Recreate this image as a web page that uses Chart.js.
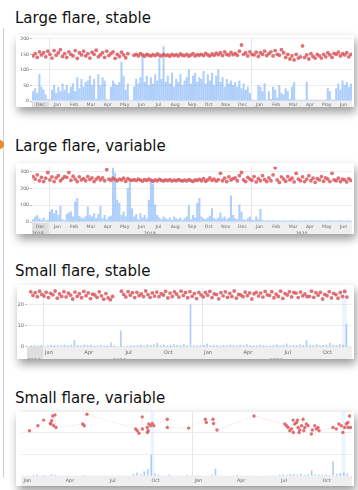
<!DOCTYPE html>
<html>
<head>
<meta charset="utf-8">
<script src="https://cdn.jsdelivr.net/npm/chart.js@4.4.1/dist/chart.umd.min.js"></script>
<style>
  html, body { margin: 0; padding: 0; background: #fff; }
  body { width: 358px; height: 490px; position: relative; overflow: hidden; font-family: "DejaVu Sans", Verdana, sans-serif; }
  .title { position: absolute; left: 15px; font-size: 15px; line-height: 18px; color: #111; white-space: nowrap; }
  .card { position: absolute; background: #fff; box-shadow: 2px 5px 9px rgba(0,0,0,0.4); }
  .card canvas { display: block; }
  .edge { position: absolute; left: 3px; top: 28px; width: 1px; height: 450px; background: #cfcfcf; }
  .knob { position: absolute; left: -5px; top: 140px; width: 9px; height: 9px; border-radius: 50%; background: #ee8a2a; }
</style>
</head>
<body>
<div class="edge"></div>
<div class="knob"></div>

<div class="title" style="top:9px">Large flare, stable</div>
<div class="card" style="left:16px;top:35px;width:338px;height:72px"><canvas id="c1" width="338" height="72"></canvas></div>

<div class="title" style="top:137px">Large flare, variable</div>
<div class="card" style="left:16px;top:163px;width:338px;height:71px"><canvas id="c2" width="338" height="71"></canvas></div>

<div class="title" style="top:262px">Small flare, stable</div>
<div class="card" style="left:17px;top:285px;width:337px;height:74px"><canvas id="c3" width="337" height="74"></canvas></div>

<div class="title" style="top:389px">Small flare, variable</div>
<div class="card" style="left:16px;top:411px;width:338px;height:75px"><canvas id="c4" width="338" height="75"></canvas></div>

<script>
// ---- data (months Dec 2018 .. Jun 2020, 8 samples per month) ----
var bigMonthLabels = ['Dec','Jan','Feb','Mar','Apr','May','Jun','Jul','Aug','Sep','Oct','Nov','Dec','Jan','Feb','Mar','Apr','May','Jun'];
var bigYears = ['2018', '2019', '2020'];

var p1Bars = [
  30, 40, 25, 85, 45, 35, 20, 5,
  3, 35, 50, 25, 45, 30, 55, 35,
  50, 25, 45, 55, 30, 75, 40, 70,
  45, 60, 65, 80, 50, 70, 5, 85,
  50, 75, 65, 5, 3, 45, 65, 55,
  50, 60, 125, 80, 35, 55, 2, 2,
  45, 70, 55, 75, 147, 60, 80, 50,
  75, 55, 85, 65, 138, 70, 175, 60,
  80, 55, 90, 45, 70, 60, 85, 50,
  65, 75, 100, 55, 80, 90, 60, 75,
  70, 95, 55, 85, 65, 90, 50, 80,
  100, 60, 75, 45, 70, 55, 65, 50,
  60, 45, 65, 40, 55, 35, 45, 25,
  3, 2, 3, 50, 45, 30, 55, 3,
  30, 5, 45, 35, 10, 50, 25, 20,
  40, 30, 5, 45, 60, 3, 3, 3,
  3, 3, 60, 3, 3, 3, 3, 3,
  3, 3, 3, 3, 40, 30, 3, 3,
  40, 55, 35, 65, 50, 60, 45, 55
];
var p1Dots = [
  145, 152, 140, 158, 148, 155, 142, 160,
  150, 138, 162, 147, 155, 165, 143, 152,
  140, 158, 150, 145, 162, 137, 155, 148,
  160, 145, 152, 138, 157, 150, 163, 142,
  148, 155, 140, 160, 146, 152, 158, 137,
  150, 143, 157, 148, 139, 152, null, null,
  147, 150, 145, 152, 148, 144, 150, 147,
  145, 149, 146, 151, 147, 145, 150, 146,
  148, 144, 150, 146, 149, 145, 151, 147,
  146, 150, 144, 148, 152, 145, 149, 147,
  150, 146, 153, 148, 145, 151, 147, 154,
  149, 155, 146, 158, 150, 147, 156, 149,
  153, 147, 160, 180, 150, 155, 145, 158,
  150, 148, 157, 143, 155, 150, 160, 146,
  152, 158, 145, 162, 150, 147, 165, 155,
  140, 150, 135, 145, 132, 150, 138, 142,
  177, 140, 148, 135, 152, 143, 138, 150,
  145, 138, 150, 142, 155, 148, 140, 153,
  150, 157, 145, 152, 148, 155, 142, 150
];

var p2Bars = [
  15, 30, 38, 20, 12, 25, 8, 10,
  60, 75, 50, 70, 40, 94, 15, 8,
  45, 55, 60, 30, 120, 140, 35, 25,
  20, 35, 90, 40, 30, 50, 20, 45,
  95, 20, 40, 15, 30, 35, 320, 290,
  130, 113, 40, 60, 30, 200, 235, 80,
  30, 45, 15, 50, 25, 40, 20, 130,
  235, 225, 100, 40, 25, 15, 30, 20,
  15, 25, 10, 30, 20, 15, 25, 10,
  20, 30, 98, 15, 40, 25, 113, 140,
  30, 20, 15, 25, 35, 80, 20, 15,
  25, 55, 20, 30, 15, 25, 155, 40,
  20, 15, 100, 60, 15, 10, 20, 30,
  10, 8, 30, 15, 75, 10, 5, 8,
  7, 6, 8, 7, 5, 7, 6, 7,
  7, 6, 7, 8, 7, 6, 7, 7,
  6, 7, 7, 6, 8, 7, 6, 7,
  7, 7, 6, 7, 7, 8, 6, 7,
  6, 7, 8, 7, 6, 7, 7, 6
];
var p2Dots = [
  270, 255, 280, 245, 265, 240, 260, 294,
  250, 268, 240, 262, 275, 245, 258, 270,
  265, 294, 248, 272, 255, 240, 268, 250,
  258, 245, 270, 252, 262, 240, 255, 265,
  250, 262, 245, 311, 255, 248, 260, 252,
  245, 255, 250, 260, 242, 258, 250, 247,
  252, 246, 255, 249, 243, 251, 247, 254,
  248, 242, 250, 245, 253, 247, 244, 250,
  246, 251, 243, 249, 245, 252, 247, 244,
  249, 244, 252, 246, 241, 250, 247, 253,
  245, 258, 242, 250, 262, 247, 255, 243,
  252, 289, 245, 260, 240, 268, 250, 257,
  262, 245, 275, 294, 250, 240, 265, 255,
  248, 270, 238, 258, 245, 275, 252, 240,
  262, 245, 280, 322, 250, 235, 268, 255,
  242, 270, 250, 260, 238, 289, 255, 245,
  268, 240, 255, 275, 245, 260, 235, 258,
  250, 270, 242, 262, 255, 240, 289, 250,
  245, 260, 240, 255, 250, 238, 258, 247
];

// ---- small flares (months from Jan 2019) ----
var quarterLabels = ['Jan','Apr','Jul','Oct','Jan','Apr','Jul','Oct'];
var smallYears = ['2018', '2019', '2020'];

// 6 dots per month, Dec 2018 .. Nov 2020
var p3Dots = [
  26.2, 24.5, 25.8, 23.9, 26.5, 25.0,
  24.2, 26.0, 23.5, 25.5, 24.8, 26.6,
  23.2, 25.2, 24.0, 26.3, 23.8, 25.6,
  24.6, 22.8, 26.1, 24.1, 25.3, 23.4,
  26.4, 24.4, 25.7, 23.0, 25.1, 24.7,
  23.6, 26.2, 24.3, 22.7, 25.4, 23.3,
  22.5, 24.0, null, null, null, 26.5,
  25.0, 23.8, 26.3, 24.6, 25.8, 23.5,
  26.0, 24.4, 25.2, 23.9, 26.6, 24.9,
  23.6, 25.7, 24.2, 26.1, 23.9, 25.3,
  24.7, 26.4, 23.3, 25.6, 24.0, 26.2,
  25.1, 23.7, 26.5, 24.5, 25.9, 23.4,
  26.3, 24.1, 25.4, 23.0, 26.0, 24.8,
  23.8, 25.9, 24.6, 26.4, 23.5, 25.2,
  24.9, 22.9, 25.8, 24.3, 26.2, 23.6,
  25.5, 24.0, 26.6, 23.2, 25.0, 24.7,
  23.9, 26.1, 24.4, 25.7, 22.8, 25.3,
  26.0, 24.2, 25.6, 23.7, 26.4, 24.8,
  24.5, 26.3, 23.4, 25.1, 24.0, 26.5,
  23.1, 25.4, 24.7, 26.2, 23.8, 25.9,
  25.6, 23.5, 26.1, 24.3, 25.2, 23.9,
  24.1, 26.5, 23.6, 25.8, 24.6, 26.0,
  22.8, 25.0, 24.4, 26.3, 23.3, 25.5,
  24.9, 23.2, 25.9, 24.0, 26.4, 23.7
];
// 4 bars per month, Dec 2018 .. Nov 2020
var p3Bars = [
  0.6, 0.8, 0.5, 0.7,
  0, 0.6, 0.9, 0.7,
  0.8, 0.6, 1.0, 0.7,
  0.9, 3.2, 0.8, 0.6,
  1.0, 0.7, 0.9, 0.5,
  0.6, 0.8, 0.4, 0.7,
  2.0, 0.6, 0, 7.7,
  0, 0.4, 0.6, 0.5,
  0.7, 0.9, 0.6, 1.0,
  0.8, 1.1, 1.8, 0.7,
  1.0, 0.6, 0.9, 1.2,
  0.7, 0.8, 1.3, 0.6,
  20, 0.5, 0.7, 0.6,
  0.8, 1.5, 0.6, 0.9,
  0.7, 0.5, 0.8, 0.6,
  1.0, 0.7, 0.6, 0.9,
  0.8, 1.1, 0.7, 0.6,
  0.5, 0.9, 0.7, 0.4,
  0.6, 0.8, 1.0, 0.7,
  0.9, 1.5, 0.7, 0.8,
  0.6, 1.0, 0.8, 3.0,
  0.9, 0.7, 1.2, 0.8,
  0.8, 1.0, 1.8, 0.9,
  0.7, 1.2, 0.9, 11
];
var p3BandMonths = [22.73];

var p4DotMonths = [
  0.58, 1.17, 1.58, 2.04, 2.09, 2.13, 2.21, 2.28, 2.37, 2.44,
  4.31, 4.42, 4.61, 8.03, 8.14, 8.26, 8.49, 8.5, 8.84, 8.85,
  8.91, 8.95, 9.07, 9.19, 9.3, 10.24, 10.25, 11.74, 12.91, 12.98,
  13.45, 13.49, 13.73, 16.33, 18.49, 18.61, 18.72, 18.84, 18.96, 19.07,
  19.08, 19.19, 19.31, 19.38, 19.42, 19.49, 19.54, 19.66, 19.77, 19.82,
  19.89, 20.0, 20.12, 20.35, 20.42, 20.59, 20.7, 20.82, 20.89, 21.87,
  22.1, 22.28, 22.45, 22.56, 22.68, 22.8, 22.91, 22.92, 23.03, 23.1
];
var p4DotValues = [
  20.9, 23.2, 25.8, 24.2, 24.0, 25.5, 27.7, 23.2, 28.2, 22.4,
  24.0, 23.2, 28.5, 21.7, 20.9, 19.7, 27.3, 21.7, 22.4, 20.1,
  20.9, 24.0, 23.2, 24.2, 23.2, 26.2, 22.4, 22.1, 26.2, 24.7,
  26.2, 24.2, 21.2, 27.7, 24.0, 23.2, 22.4, 20.9, 21.7, 25.8,
  20.1, 24.0, 24.7, 25.8, 22.4, 20.1, 21.2, 23.2, 26.2, 20.9,
  22.4, 24.0, 23.2, 19.4, 21.2, 23.2, 21.7, 22.4, 20.9, 22.4,
  21.7, 24.0, 23.2, 20.1, 22.4, 24.0, 24.7, 22.4, 27.7, 22.4
];
// 4 bars per month, Jan 2019 .. Nov 2020
var p4Bars = [
  0, 0, 0, 0.4,
  0.5, 0, 0.3, 0,
  0.6, 0.4, 0, 0,
  0, 0, 0, 0,
  0, 0.3, 0, 0,
  0, 0, 0, 0,
  0, 0, 0, 0,
  0, 0, 0, 0.8,
  1.5, 0.6, 2.0, 3.0,
  9.5, 1.0, 0.5, 0,
  0, 0.5, 0, 0,
  0, 0, 0.4, 0,
  0, 0.3, 0, 0,
  0, 0.5, 3.2, 0,
  0, 0, 0, 0,
  0.3, 0, 0, 0,
  0, 0, 0, 0,
  0, 0, 0, 0,
  0.5, 0.7, 0.4, 0.8,
  0.6, 0.5, 0.9, 0.4,
  0.7, 2.5, 0.6, 0.5,
  0.4, 0.6, 0.3, 6.5,
  0.8, 1.2, 1.5, 1.0
];
var p4BandMonths = [9.2, 22.6];

var FONT = '"DejaVu Sans", Verdana, sans-serif';
var RED = 'rgba(218,88,94,0.85)';
var BLUE = 'rgba(95,160,248,0.5)';
var BAND = 'rgba(160,200,250,0.2)';

function evenPoints(values, start, perMonth) {
  return values.map(function (v, i) { return { x: start + (i + 0.5) / perMonth, y: v }; });
}

function buildChart(id, cfg) {
  var datasets = [{
    type: 'scatter',
    data: cfg.dots,
    pointRadius: cfg.dotRadius || 1.9,
    pointBackgroundColor: RED,
    pointBorderWidth: 0,
    showLine: !!cfg.dotLine,
    borderColor: 'rgba(220,110,115,0.35)',
    borderWidth: 1,
    borderDash: [1, 2],
    order: 0
  }, {
    type: 'bar',
    data: cfg.bars,
    backgroundColor: BLUE,
    barThickness: cfg.barWidth,
    grouped: false,
    order: 1
  }];
  if (cfg.bands) {
    datasets.push({
      type: 'bar',
      data: cfg.bands.map(function (m) { return { x: m, y: cfg.yMax * 2 }; }),
      backgroundColor: BAND,
      barThickness: cfg.bandWidth || 4,
      grouped: false,
      order: 2
    });
  }

  var bandPlugin = {
    id: 'axisBand',
    beforeDraw: function (chart) {
      var a = chart.chartArea, ctx = chart.ctx, xs = chart.scales.x;
      ctx.save();
      ctx.fillStyle = '#efefef';
      ctx.fillRect(a.left, a.bottom, a.right - a.left, chart.height - a.bottom);
      if (cfg.darkTo != null) {
        ctx.fillStyle = '#dedede';
        ctx.fillRect(a.left, a.bottom, xs.getPixelForValue(cfg.darkTo) - a.left, chart.height - a.bottom);
      }
      ctx.strokeStyle = '#e6e6e6';
      ctx.lineWidth = 1;
      cfg.yearLines.forEach(function (v) {
        var x = Math.round(xs.getPixelForValue(v)) + 0.5;
        ctx.beginPath();
        ctx.moveTo(x, a.top);
        ctx.lineTo(x, a.bottom);
        ctx.stroke();
      });
      if (cfg.years) {
        ctx.fillStyle = '#666';
        ctx.font = cfg.fontSize + 'px ' + FONT;
        ctx.textAlign = 'center';
        ctx.textBaseline = 'top';
        cfg.years.forEach(function (y, i) {
          ctx.fillText(y, xs.getPixelForValue(cfg.yearAt[i]), a.bottom + cfg.yearDy);
        });
      }
      ctx.restore();
    }
  };

  new Chart(document.getElementById(id), {
    type: 'bar',
    data: { datasets: datasets },
    options: {
      responsive: false,
      animation: false,
      devicePixelRatio: 1,
      layout: { autoPadding: false, padding: { right: 2 } },
      plugins: { legend: { display: false }, tooltip: { enabled: false } },
      scales: {
        x: {
          type: 'linear',
          min: cfg.xMin,
          max: cfg.xMax,
          offset: false,
          grid: { display: false, drawTicks: false },
          border: { display: false },
          afterBuildTicks: function (s) {
            s.ticks = cfg.tickAt.map(function (v) { return { value: v }; });
          },
          afterFit: function (s) { s.height = cfg.xHeight; },
          ticks: {
            autoSkip: false,
            maxRotation: 0,
            padding: cfg.xPad,
            labelOffset: cfg.labelOffset || 0,
            font: { size: cfg.fontSize, family: FONT },
            color: '#666',
            callback: function (v, i) { return cfg.tickLabels[i]; }
          }
        },
        y: {
          min: 0,
          max: cfg.yMax,
          grid: { color: '#eeeeee', tickColor: '#bbbbbb', tickLength: cfg.yLabels ? 2 : 0, drawTicks: !!cfg.yLabels },
          border: { display: false },
          afterFit: function (s) { s.width = cfg.yWidth; },
          ticks: {
            stepSize: cfg.yStep,
            includeBounds: false,
            display: !!cfg.yLabels,
            padding: 1,
            font: { size: cfg.fontSize, family: FONT },
            color: '#666'
          }
        }
      }
    },
    plugins: [bandPlugin]
  });
}

function onReady(fn) {
  if (document.readyState === 'loading') {
    document.addEventListener('DOMContentLoaded', fn, { once: true });
  } else {
    fn();
  }
}

onReady(function () {
  if (!window.Chart) return;
  var monthCenters = bigMonthLabels.map(function (l, i) { return i + 0.5; });
  var quarterStarts = quarterLabels.map(function (l, i) { return i * 3; });

  buildChart('c1', {
    dots: evenPoints(p1Dots, 0, 8), bars: evenPoints(p1Bars, 0, 8), barWidth: 1.4,
    xMin: 0, xMax: 19, tickAt: monthCenters, tickLabels: bigMonthLabels,
    yMax: 200, yStep: 50, yLabels: true, yWidth: 16, xHeight: 6, xPad: 1,
    fontSize: 4.6, darkTo: 1, yearLines: [1, 13]
  });

  buildChart('c2', {
    dots: evenPoints(p2Dots, 0, 8), bars: evenPoints(p2Bars, 0, 8), barWidth: 1.4,
    xMin: 0, xMax: 19, tickAt: monthCenters, tickLabels: bigMonthLabels,
    yMax: 328, yStep: 100, yLabels: true, yWidth: 16, xHeight: 12, xPad: 2,
    fontSize: 4.6, darkTo: 1, yearLines: [1, 13],
    years: bigYears, yearAt: [0.35, 7.0, 16.0], yearDy: 9
  });

  buildChart('c3', {
    dots: evenPoints(p3Dots, -1, 6), bars: evenPoints(p3Bars, -1, 4), barWidth: 1,
    bands: p3BandMonths, bandWidth: 4,
    xMin: -1.2, xMax: 23.3, tickAt: quarterStarts, tickLabels: quarterLabels, labelOffset: 6,
    yMax: 27.5, yStep: 10, yLabels: true, yWidth: 10, xHeight: 12, xPad: 3,
    fontSize: 5.2, darkTo: 0, yearLines: [0, 12],
    years: smallYears, yearAt: [-0.67, 5.8, 17.6], yearDy: 11
  });

  buildChart('c4', {
    dots: p4DotMonths.map(function (m, i) { return { x: m, y: p4DotValues[i] }; }),
    dotLine: true, dotRadius: 1.7,
    bars: evenPoints(p4Bars, 0, 4), barWidth: 1,
    bands: p4BandMonths, bandWidth: 3,
    xMin: 0, xMax: 23.2, tickAt: quarterStarts, tickLabels: quarterLabels, labelOffset: 6,
    yMax: 30, yStep: 10, yLabels: false, yWidth: 4, xHeight: 10, xPad: 1.5,
    fontSize: 4.8, darkTo: null, yearLines: [12]
  });
});
</script>
</body>
</html>
